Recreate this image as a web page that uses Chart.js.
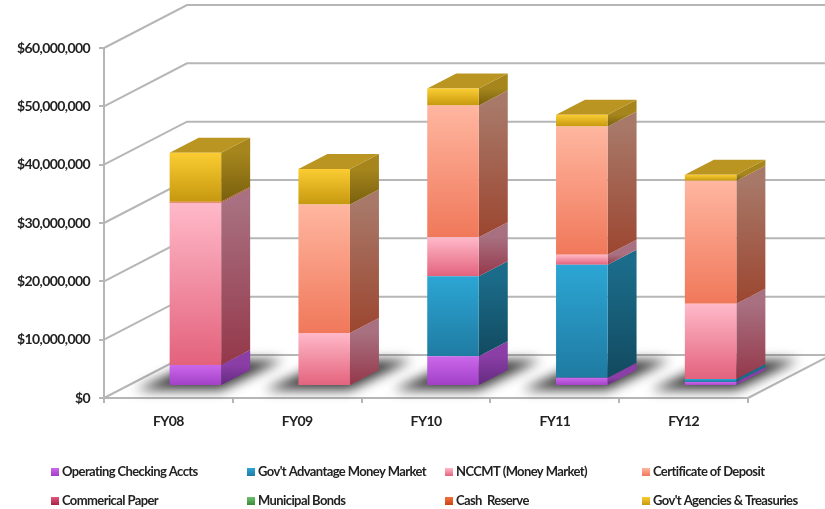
<!DOCTYPE html>
<html><head><meta charset="utf-8">
<style>html,body{margin:0;padding:0;background:#fff}#w{width:825px;height:509px;position:relative}canvas{display:block;filter:blur(0.45px)}</style>
<script src="https://cdn.jsdelivr.net/npm/chart.js@4"></script></head>
<body><div id="w"><canvas id="c" width="825" height="509"></canvas></div>
<script>
const categories = ['FY08','FY09','FY10','FY11','FY12'];
const yMax = 60000000, yStep = 10000000;
const operatingChecking = [3600000, 0, 5100000, 1400000, 700000];
const govAdvantage      = [0, 0, 13700000, 19400000, 500000];
const nccmt             = [27800000, 9100000, 6700000, 1700000, 12900000];
const certDeposit       = [0, 22000000, 22600000, 22000000, 21100000];
const commercialPaper   = [0, 0, 0, 0, 0];
const municipalBonds    = [0, 0, 0, 0, 0];
const cashReserve       = [200000, 0, 0, 0, 0];
const govAgencies       = [8400000, 6100000, 2900000, 2000000, 1000000];

const seriesNames = ['Operating Checking Accts',"Gov't Advantage Money Market",'NCCMT (Money Market)','Certificate of Deposit','Commerical Paper','Municipal Bonds','Cash  Reserve',"Gov't Agencies & Treasuries"];
const seriesValues = [operatingChecking,govAdvantage,nccmt,certDeposit,commercialPaper,municipalBonds,cashReserve,govAgencies];
const gradTop = ['#cb68ea','#2ca6d4','#ffb9c9','#ffb6a0','#e2587e','#6fc06f','#f2723f','#fbcd32'];
const gradBot = ['#a03ec6','#1f7ba2','#e3627c','#f0785a','#a52345','#3a8a3a','#c84512','#c6980f'];
const sideTop = ['#8a3ea6','#1b6c8a','#a87080','#a87868','#9a3a55','#4a8a4a','#a8481f','#a5851c'];
const sideBot = ['#652a80','#124a60','#94384a','#9c4630','#701830','#2a5c2a','#80300c','#7a600e'];
const topFace = '#bb9522';
const legendCols = [49,245,443,640], legendRows = [472,501];
const FONT = 'Lato, "Open Sans", sans-serif';
const DX=27, DY=-12;      // bar row offset on the floor
const BDX=29, BDY=-15;    // bar depth
const WDX=83, WDY=-43;    // wall depth
const LINE='#b6b6b6';

function frontGrad(c){
  const col=c.datasetIndex;
  if(c.type!=='data'||!c.chart.scales.y) return gradTop[col];
  const y=c.chart.scales.y; let s=0;
  for(let k=0;k<col;k++) s+=seriesValues[k][c.dataIndex];
  const a=y.getPixelForValue(s+seriesValues[col][c.dataIndex]), b=y.getPixelForValue(s);
  if(!(b>a)) return gradTop[col];
  const g=c.chart.ctx.createLinearGradient(0,a,0,b);
  g.addColorStop(0,gradTop[col]); g.addColorStop(1,gradBot[col]);
  return g;
}

const scene3d={
  id:'scene3d',
  beforeDraw(chart){ chart.ctx.letterSpacing='-0.6px'; },
  beforeDatasetsDraw(chart){
    const {ctx,scales:{x,y}}=chart;
    const L=x.left,R=x.right;
    ctx.save();
    ctx.strokeStyle=LINE; ctx.lineWidth=2;
    y.ticks.forEach(t=>{
      const p=y.getPixelForValue(t.value);
      ctx.beginPath(); ctx.moveTo(L,p); ctx.lineTo(L+WDX,p+WDY); ctx.lineTo(R+WDX,p+WDY); ctx.stroke();
    });
    const z=y.getPixelForValue(0);
    ctx.beginPath(); ctx.moveTo(R,z); ctx.lineTo(R+WDX,z+WDY); ctx.stroke();
    // floor shadows
    const first=chart.getDatasetMeta(0).data;
    ctx.filter='blur(6px)'; ctx.fillStyle='#3c3c3c';
    first.forEach(el=>{
      const l=el.x-el.width/2+DX, r=l+el.width, b=z+DY+4;
      ctx.beginPath(); ctx.moveTo(l-34,b); ctx.lineTo(r,b); ctx.lineTo(r+62,b-30); ctx.lineTo(l+32,b-30); ctx.closePath(); ctx.fill();
    });
    ctx.filter='none';
    ctx.translate(DX,DY);
    const n=seriesValues.length;
    categories.forEach((_,i)=>{
      let topEl=null;
      for(let d=0;d<n;d++){
        if(!seriesValues[d][i]) continue;
        const el=chart.getDatasetMeta(d).data[i];
        const r=el.x+el.width/2;
        const g=ctx.createLinearGradient(0,el.y,0,el.base);
        g.addColorStop(0,sideTop[d]); g.addColorStop(1,sideBot[d]);
        ctx.fillStyle=g;
        ctx.beginPath(); ctx.moveTo(r,el.y); ctx.lineTo(r+BDX,el.y+BDY); ctx.lineTo(r+BDX,el.base+BDY); ctx.lineTo(r,el.base); ctx.closePath(); ctx.fill();
        topEl=el;
      }
      if(topEl){
        const l=topEl.x-topEl.width/2, r=l+topEl.width, t=topEl.y;
        ctx.fillStyle=topFace;
        ctx.beginPath(); ctx.moveTo(l,t); ctx.lineTo(l+BDX,t+BDY); ctx.lineTo(r+BDX,t+BDY); ctx.lineTo(r,t); ctx.closePath(); ctx.fill();
      }
    });
    ctx.restore();
    ctx.save();
    ctx.translate(DX,DY);
  },
  afterDatasetsDraw(chart){
    const ctx=chart.ctx;
    ctx.restore();
    ctx.save();
    ctx.font='700 13px '+FONT; ctx.textBaseline='middle'; ctx.textAlign='left';
    seriesNames.forEach((name,i)=>{
      const col=i%4,row=Math.floor(i/4);
      const lx=legendCols[col],ly=legendRows[row];
      const g=ctx.createLinearGradient(0,ly-4,0,ly+4);
      g.addColorStop(0,gradTop[i]);g.addColorStop(1,gradBot[i]);
      ctx.fillStyle=g; ctx.fillRect(lx+2,ly-4,8,8);
      ctx.fillStyle='#222'; ctx.fillText(name,lx+13,ly);
    });
    ctx.restore();
  }
};

new Chart(document.getElementById('c'),{
  type:'bar',
  data:{labels:categories,datasets:seriesNames.map((label,i)=>({label,data:seriesValues[i],backgroundColor:frontGrad,borderWidth:0,barPercentage:0.8,categoryPercentage:0.5,clip:false}))},
  plugins:[scene3d],
  options:{
    responsive:false,animation:false,
    layout:{padding:{top:48,right:77,left:0,bottom:0}},
    plugins:{legend:{display:false},tooltip:{enabled:false}},
    scales:{
      x:{stacked:true,
        grid:{display:true,drawOnChartArea:false,color:LINE,tickLength:5,lineWidth:2,offset:true},
        border:{color:LINE,width:2},
        ticks:{color:'#222',font:{family:FONT,weight:'700',size:14},padding:10,maxRotation:0},
        afterFit(s){s.height=111;}},
      y:{stacked:true,min:0,max:yMax,
        grid:{display:true,drawOnChartArea:false,color:LINE,tickLength:5,lineWidth:2},
        border:{color:LINE,width:2},
        ticks:{stepSize:yStep,color:'#222',font:{family:FONT,weight:'700',size:14},padding:9,
          callback:v=>'$'+Number(v).toLocaleString('en-US')},
        afterFit(s){s.width=104;}}
    }
  }
});
</script></body></html>
